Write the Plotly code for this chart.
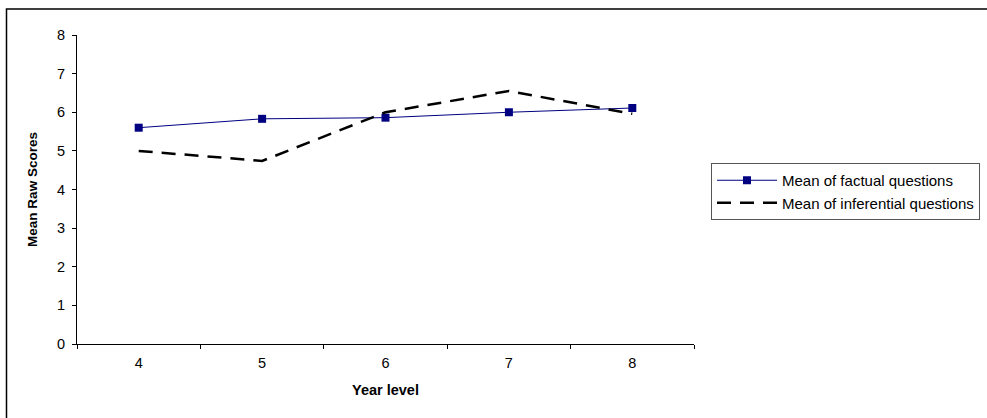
import plotly.graph_objects as go

# Year levels and mean raw scores
year_levels = ["4", "5", "6", "7", "8"]
factual_means = [5.6, 5.83, 5.86, 6.0, 6.11]
inferential_means = [5.0, 4.74, 6.0, 6.55, 5.96]
y_ticks = [0, 1, 2, 3, 4, 5, 6, 7, 8]

W, H = 987, 418
L, R, T, B = 77, 293, 35, 74   # plot area: x 77..694, y 35..344
pw, ph = W - L - R, H - T - B

def px_x(px):
    return (px - L) / pw

def px_y(py):
    return (H - B - py) / ph

FAM = "Liberation Sans, Arial, sans-serif"

fig = go.Figure()
fig.add_trace(go.Scatter(
    x=year_levels, y=factual_means, name="Mean of factual questions",
    mode="lines+markers",
    line=dict(color="#000080", width=1),
    marker=dict(symbol="square", size=8, color="#000080"),
))
fig.add_trace(go.Scatter(
    x=year_levels, y=inferential_means, name="Mean of inferential questions",
    mode="lines",
    line=dict(color="black", width=2.5, dash="14px,9px"),
))

fig.update_layout(
    width=W, height=H,
    margin=dict(l=L, r=R, t=T, b=B, pad=0, autoexpand=False),
    paper_bgcolor="white", plot_bgcolor="white",
    font=dict(family=FAM, size=14, color="black"),
    showlegend=True,
    legend=dict(
        x=px_x(711), y=px_y(163), xanchor="left", yanchor="top",
        bordercolor="#555555", borderwidth=1, bgcolor="white",
        font=dict(family=FAM, size=15, color="black"),
        tracegroupgap=0, itemwidth=60,
    ),
    xaxis=dict(
        type="category", range=[-0.5, 4.5], tickson="boundaries",
        ticks="outside", ticklen=4, tickcolor="black",
        ticklabelstandoff=6,
        showline=True, linecolor="black", linewidth=1,
        showgrid=False, zeroline=False,
        tickfont=dict(family=FAM, size=14.5),
        title=dict(text="<b>Year level</b>", standoff=14,
                   font=dict(family=FAM, size=14.5)),
    ),
    yaxis=dict(
        range=[0, 8], tickvals=y_ticks,
        ticks="outside", ticklen=4, tickcolor="black",
        ticklabelstandoff=4,
        showline=True, linecolor="black", linewidth=1,
        showgrid=False, zeroline=False,
        tickfont=dict(family=FAM, size=14.5),
        title=dict(text="<b>Mean Raw Scores</b>", standoff=16,
                   font=dict(family=FAM, size=13.5)),
    ),
)

# Outer chart frame
fig.add_shape(
    type="rect", xref="paper", yref="paper",
    x0=px_x(6.5), x1=px_x(1000), y0=px_y(430), y1=px_y(9),
    line=dict(color="black", width=1.5), fillcolor="rgba(0,0,0,0)", layer="below",
)

fig.write_html("out.html")
